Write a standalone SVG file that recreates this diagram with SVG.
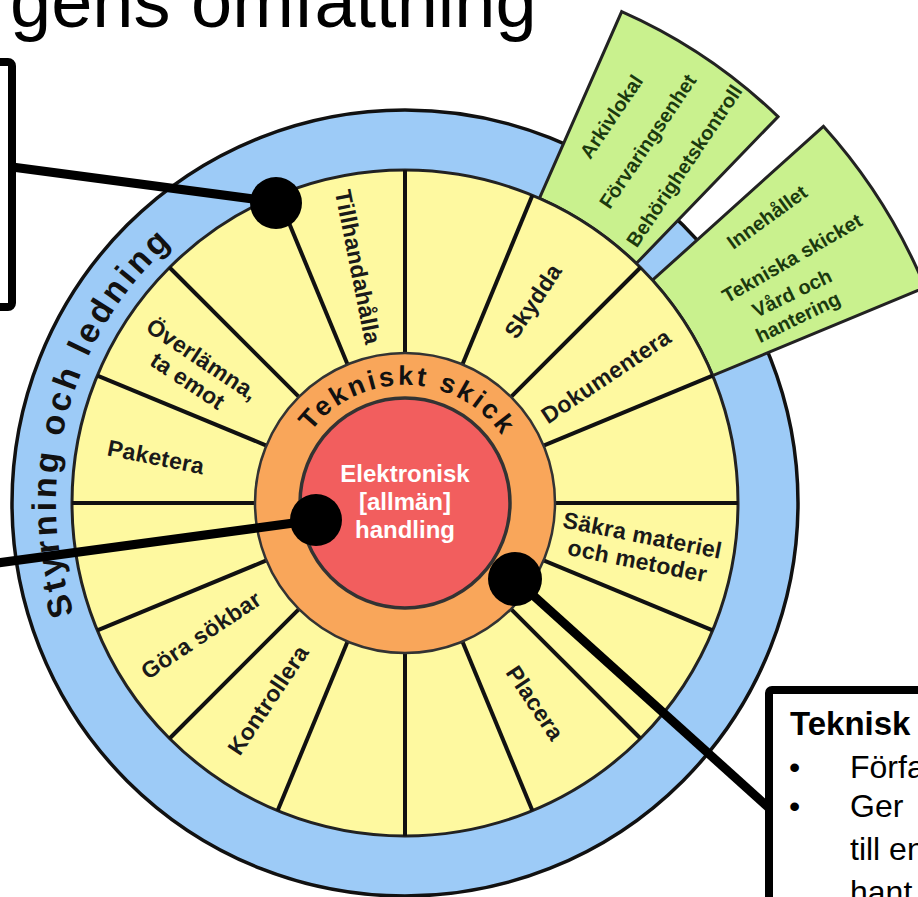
<svg xmlns="http://www.w3.org/2000/svg" width="918" height="897" viewBox="0 0 918 897">
<style>
text{font-family:"Liberation Sans",Arial,sans-serif}
.lbl{font-size:23px;font-weight:bold;fill:#1a1a1a;text-anchor:middle;letter-spacing:0.3px}
.grn{font-size:20px;font-weight:bold;fill:#1b3a0e;text-anchor:middle}
.spoke{stroke:#111;stroke-width:4}
.conn{stroke:#000;stroke-width:9;fill:none}
.dot{fill:#000}
.box{fill:#fff;stroke:#000;stroke-width:8}
.ring{font-weight:bold;fill:#111}
.body{font-size:32px;fill:#000}
</style>
<defs>
<path id="arcOuter" d="M137.7,727.3 A349,349 0 0 1 285.6,175.0"/>
<path id="arcMid" d="M287,503 A118,118 0 0 1 523,503"/>
<line id="sp" x1="405" y1="353" x2="405" y2="170" class="spoke"/>
</defs>
<rect width="918" height="897" fill="#fff"/>
<g id="title"><text x="10" y="27" font-size="74" fill="#000">gens omfattning</text></g>
<g id="left-box"><rect x="-40" y="62" width="52" height="245" rx="4" class="box"/></g>
<g id="right-box">
<rect x="769" y="690" width="220" height="260" rx="3" class="box"/>
<text x="790" y="735" font-size="33" font-weight="bold" fill="#000">Teknisk</text>
<text x="789" y="778" class="body">•</text><text x="850" y="778" class="body">Förfa</text>
<text x="789" y="817" class="body">•</text><text x="850" y="817" class="body">Ger</text>
<text x="850" y="860" class="body">till en</text>
<text x="850" y="903" class="body">hant</text>
</g>
<g id="outer-ring">
<circle cx="405" cy="503" r="393" fill="#9dcbf7" stroke="#111" stroke-width="3.5"/>
<text class="ring" font-size="34" letter-spacing="3.5"><textPath href="#arcOuter" startOffset="50%" text-anchor="middle">Styrning och ledning</textPath></text>
</g>
<g id="green-box-1">
<path d="M539.4,198.3 L621.7,11.6 A537,537 0 0 1 778.0,116.7 L636.3,263.5 A333,333 0 0 0 539.4,198.3 Z" fill="#c9f18e" stroke="#222" stroke-width="3"/>
<g transform="translate(647.7,141.2) rotate(-56)">
<text class="grn" y="-37">Arkivlokal</text>
<text class="grn" y="7">Förvaringsenhet</text>
<text class="grn" y="51">Behörighetskontroll</text>
</g>
</g>
<g id="green-box-2">
<path d="M652.5,280.2 L823.4,126.3 A563,563 0 0 1 925.2,287.5 L712.7,375.6 A333,333 0 0 0 652.5,280.2 Z" fill="#c9f18e" stroke="#222" stroke-width="3"/>
<text class="grn" transform="translate(767,217) rotate(-36)" y="7">Innehållet</text>
<text class="grn" transform="translate(792,258) rotate(-30)" y="7">Tekniska skicket</text>
<text class="grn" transform="translate(792,293) rotate(-26)" y="7">Vård och</text>
<text class="grn" transform="translate(798,317) rotate(-26)" y="7">hantering</text>
</g>
<g id="activities">
<circle cx="405" cy="503" r="333" fill="#fef9a0" stroke="#222" stroke-width="3"/>
<use href="#sp"/>
<use href="#sp" transform="rotate(22.5 405 503)"/>
<use href="#sp" transform="rotate(45 405 503)"/>
<use href="#sp" transform="rotate(67.5 405 503)"/>
<use href="#sp" transform="rotate(90 405 503)"/>
<use href="#sp" transform="rotate(112.5 405 503)"/>
<use href="#sp" transform="rotate(135 405 503)"/>
<use href="#sp" transform="rotate(157.5 405 503)"/>
<use href="#sp" transform="rotate(180 405 503)"/>
<use href="#sp" transform="rotate(202.5 405 503)"/>
<use href="#sp" transform="rotate(225 405 503)"/>
<use href="#sp" transform="rotate(247.5 405 503)"/>
<use href="#sp" transform="rotate(270 405 503)"/>
<use href="#sp" transform="rotate(292.5 405 503)"/>
<use href="#sp" transform="rotate(315 405 503)"/>
<use href="#sp" transform="rotate(337.5 405 503)"/>
<text class="lbl" transform="translate(358,267) rotate(78.75)" y="8">Tillhandahålla</text>
<text class="lbl" transform="translate(533,301) rotate(-56.25)" y="8">Skydda</text>
<text class="lbl" transform="translate(606,376) rotate(-33.75)" y="8">Dokumentera</text>
<g transform="translate(640,548) rotate(11.25)"><text class="lbl" y="-5">Säkra materiel</text><text class="lbl" y="21">och metoder</text></g>
<text class="lbl" transform="translate(535,703) rotate(56.25)" y="8">Placera</text>
<text class="lbl" transform="translate(268,700) rotate(-56.25)" y="8">Kontrollera</text>
<text class="lbl" transform="translate(201,635) rotate(-33.75)" y="8">Göra sökbar</text>
<text class="lbl" transform="translate(156,457) rotate(11.25)" y="8">Paketera</text>
<g transform="translate(195,370) rotate(33.75)"><text class="lbl" y="-5">Överlämna,</text><text class="lbl" y="21">ta emot</text></g>
</g>
<g id="tekniskt-skick">
<circle cx="405" cy="503" r="150" fill="#f9a65a" stroke="#333" stroke-width="2.5"/>
<text class="ring" font-size="27" letter-spacing="3"><textPath href="#arcMid" startOffset="51%" text-anchor="middle">Tekniskt skick</textPath></text>
</g>
<g id="handling">
<circle cx="405" cy="503" r="105" fill="#f25e5e" stroke="#333" stroke-width="3.5"/>
<text x="405" y="482" font-size="24" font-weight="bold" fill="#fff" text-anchor="middle">Elektronisk</text>
<text x="405" y="510" font-size="24" font-weight="bold" fill="#fff" text-anchor="middle">[allmän]</text>
<text x="405" y="538" font-size="24" font-weight="bold" fill="#fff" text-anchor="middle">handling</text>
</g>
<g id="connectors">
<line x1="12" y1="167" x2="276" y2="202" class="conn"/>
<line x1="-10" y1="564" x2="316" y2="520" class="conn"/>
<line x1="515" y1="579" x2="769" y2="808" class="conn"/>
<circle cx="276" cy="203" r="26" class="dot"/>
<circle cx="316" cy="520" r="26" class="dot"/>
<circle cx="515" cy="579" r="27" class="dot"/>
</g>
</svg>
